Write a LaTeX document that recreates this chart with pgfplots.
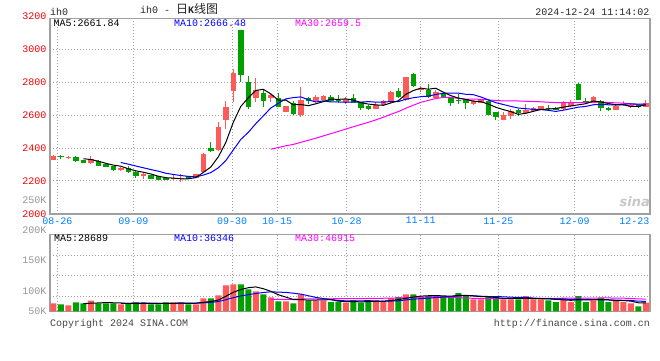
\documentclass[border=0pt]{standalone}
\usepackage{fontspec}
\usepackage{pgfplots}
\usepackage{pgfplotstable}
\pgfplotsset{compat=1.18}
\setmainfont{Liberation Mono}
\newfontfamily\cjk{Noto Sans CJK SC}
\newfontfamily\logofont{DejaVu Sans}
\definecolor{kred}{RGB}{255,90,90}
\definecolor{kgreen}{RGB}{0,160,0}
\definecolor{axred}{RGB}{240,0,0}
\definecolor{dateblue}{RGB}{0,128,255}
\definecolor{framegray}{RGB}{160,160,160}
\definecolor{gridgray}{RGB}{160,160,160}
\definecolor{labgray}{RGB}{150,150,150}
\definecolor{txtgray}{RGB}{70,70,70}
\definecolor{mablue}{RGB}{0,0,255}
\definecolor{mamag}{RGB}{255,0,255}

% red (rising) candles: index, open, high, low, close, volume (K)
\pgfplotstableread{
i O H L C V
0 2328 2358 2326 2354 28
2 2340 2350 2334 2348 21
5 2308 2354 2300 2332 37.5
9 2268 2284 2260 2276 24.5
12 2228 2248 2214 2240 28
16 2210 2237 2208 2220 31.5
17 2210 2243 2196 2218 31.5
19 2218 2245 2216 2243 24.5
20 2257 2370 2250 2363 45.5
22 2387 2560 2380 2527 56
23 2568 2685 2513 2651 91
24 2746 2878 2679 2858 94.5
27 2702 2827 2679 2750 70
29 2702 2736 2681 2720 49
31 2622 2655 2618 2653 35
33 2598 2769 2588 2694 59.5
35 2684 2725 2680 2708 37.5
36 2694 2720 2690 2718 37.5
39 2682 2710 2666 2698 30.5
43 2639 2680 2636 2661 38.5
44 2661 2690 2658 2686 32.5
45 2678 2746 2676 2743 46.5
47 2690 2835 2686 2833 59.5
49 2752 2780 2740 2760 50
51 2706 2752 2700 2740 53.5
56 2666 2690 2660 2686 42
57 2676 2700 2672 2696 42
60 2570 2620 2568 2600 42
61 2592 2636 2576 2626 42
63 2612 2666 2610 2632 53.5
64 2626 2648 2622 2646 42
65 2636 2658 2634 2656 42
68 2636 2686 2634 2672 46.5
69 2656 2692 2652 2680 32.5
72 2676 2714 2672 2712 38.5
75 2632 2664 2630 2654 38.5
76 2660 2684 2658 2670 32.5
77 2652 2676 2646 2664 28
79 2650 2690 2648 2674 30.5
}\up

% green (falling) candles
\pgfplotstableread{
i O H L C V
1 2354 2358 2334 2344 24.5
3 2344 2350 2318 2320 31.5
4 2328 2330 2306 2308 28
6 2324 2326 2290 2292 28
7 2304 2306 2282 2284 28
8 2288 2292 2262 2264 28
10 2276 2290 2250 2252 28
11 2256 2258 2220 2232 31.5
13 2236 2238 2210 2212 24.5
14 2228 2230 2206 2208 24.5
15 2220 2222 2204 2206 31.5
18 2230 2232 2212 2214 24.5
21 2400 2437 2373 2385 45.5
25 3116 3116 2803 2844 94.5
26 2803 2838 2640 2649 77
28 2736 2750 2651 2685 59.5
30 2702 2732 2648 2651 35
32 2673 2685 2602 2606 28
34 2704 2712 2670 2684 37.5
37 2708 2720 2680 2684 32.5
38 2694 2720 2676 2686 32.5
40 2704 2726 2672 2673 38.5
41 2678 2680 2634 2641 30.5
42 2653 2664 2634 2639 38.5
46 2745 2766 2705 2710 50
48 2853 2857 2770 2776 59.5
50 2755 2792 2706 2710 53.5
52 2730 2736 2706 2712 53.5
53 2706 2710 2656 2672 53.5
54 2692 2726 2666 2684 64
55 2696 2700 2636 2672 56
58 2686 2690 2598 2600 50
59 2620 2622 2570 2586 50
62 2632 2640 2596 2612 42
66 2646 2660 2626 2638 38.5
67 2646 2650 2630 2632 32.5
70 2792 2796 2690 2692 53.5
71 2688 2704 2668 2672 32.5
73 2688 2692 2628 2644 46.5
74 2642 2650 2626 2634 32.5
78 2660 2670 2644 2648 17.5
}\down

% price moving averages
\pgfplotstableread{
i m5 m10 m30
0 nan nan nan
1 nan nan nan
2 nan nan nan
3 nan nan nan
4 2334.8 nan nan
5 2330.4 nan nan
6 2320 nan nan
7 2307.2 nan nan
8 2296 nan nan
9 2289.6 2312.2 nan
10 2273.6 2302 nan
11 2261.6 2290.8 nan
12 2252.8 2280 nan
13 2242.4 2269.2 nan
14 2228.8 2259.2 nan
15 2219.6 2246.6 nan
16 2217.2 2239.4 nan
17 2212.8 2232.8 nan
18 2213.2 2227.8 nan
19 2220.2 2224.5 nan
20 2251.6 2235.6 nan
21 2284.6 2250.9 nan
22 2346.4 2279.6 nan
23 2433.8 2323.5 nan
24 2556.8 2388.5 nan
25 2653 2452.3 nan
26 2705.8 2495.2 nan
27 2750.4 2548.4 nan
28 2757.2 2595.5 nan
29 2729.6 2643.2 2393.3
30 2691 2672 2403.2
31 2691.8 2698.8 2413.5
32 2663 2706.7 2422.1
33 2664.8 2711 2434.6
34 2657.6 2693.6 2447.1
35 2669 2680 2459.6
36 2682 2686.9 2473.8
37 2697.6 2680.3 2487.2
38 2696 2680.4 2501.2
39 2698.8 2678.2 2515.3
40 2691.8 2680.4 2529.3
41 2676.4 2679.2 2543.0
42 2667.4 2682.5 2556.3
43 2662.4 2679.2 2571.2
44 2660 2679.4 2587.2
45 2674 2682.9 2605.1
46 2687.8 2682.1 2621.4
47 2726.6 2697 2641.9
48 2749.6 2706 2660.6
49 2764.4 2712.2 2677.9
50 2757.8 2715.9 2689.4
51 2763.8 2725.8 2701.3
52 2739.6 2733.1 2707.4
53 2718.8 2734.2 2708.1
54 2703.6 2734 2702.3
55 2696 2726.9 2696.6
56 2685.2 2724.5 2697.8
57 2682 2710.8 2696.0
58 2667.6 2693.2 2693.2
59 2648 2675.8 2688.7
60 2633.6 2664.8 2687.0
61 2621.6 2653.4 2686.1
62 2604.8 2643.4 2686.3
63 2611.2 2639.4 2684.3
64 2623.2 2635.6 2683.0
65 2634.4 2634 2681.3
66 2636.8 2629.2 2678.6
67 2640.8 2622.8 2676.8
68 2648.8 2630 2676.4
69 2655.6 2639.4 2675.8
70 2662.8 2648.6 2676.4
71 2669.6 2653.2 2677.4
72 2685.6 2663.2 2679.9
73 2680 2664.4 2679.3
74 2670.8 2663.2 2677.6
75 2663.2 2663.0 2674.6
76 2662.8 2666.0 2673.3
77 2653.2 2669.2 2667.6
78 2654 2667 2663.4
79 2662 2666.4 2660.5
}\ma

% volume moving averages (K)
\pgfplotstableread{
i v5 v10 v30
0 nan nan nan
1 nan nan nan
2 nan nan nan
3 nan nan nan
4 26.6 nan nan
5 28.5 nan nan
6 29.2 nan nan
7 30.6 nan nan
8 29.9 nan nan
9 29.2 27.9 nan
10 27.3 27.9 nan
11 28 28.6 nan
12 28 29.3 nan
13 27.3 28.6 nan
14 27.3 28.2 nan
15 28 27.7 nan
16 28 28 nan
17 28.7 28.4 nan
18 28.7 28 nan
19 28.7 28 nan
20 31.5 29.8 nan
21 34.3 31.2 nan
22 39.2 34 nan
23 52.5 40.6 nan
24 66.5 47.6 nan
25 76.3 53.9 nan
26 82.6 58.5 nan
27 85.4 62.3 nan
28 79.1 65.8 nan
29 70 68.3 41.4
30 58.1 67.2 41.6
31 49.7 66.2 42
32 41.3 63.4 42.2
33 41.3 60.2 43.1
34 39 54.5 43.4
35 39.5 48.8 43.4
36 40 44.8 43.8
37 40.9 41.1 43.9
38 35.5 38.4 44.1
39 34.1 36.5 44.3
40 34.3 36.9 44.6
41 32.9 36.4 44.6
42 34.1 37.5 44.9
43 35.3 35.4 45.4
44 35.7 34.9 45.7
45 37.3 35.8 46.2
46 41.2 37.1 46.8
47 45.4 39.8 47.7
48 49.6 42.5 48.9
49 53.1 44.4 49.7
50 54.5 45.9 50
51 55.2 48.2 50.3
52 54 49.7 50.2
53 52.9 51.2 48.9
54 55.7 54.4 47.9
55 56.1 55.3 46.7
56 53.8 54.5 45.5
57 51.5 52.8 44.6
58 50.8 51.8 44.2
59 48 51.8 44.3
60 45.2 50.7 44.5
61 45.2 49.5 44.7
62 45.2 48.4 45.2
63 45.9 48.4 45
64 44.3 46.2 45.2
65 44.3 44.8 45.3
66 43.6 44.4 45.3
67 41.7 43.5 45.3
68 40.3 43.1 45.8
69 38.4 41.4 45.9
70 40.7 42.5 46.4
71 39.6 41.6 46.4
72 40.7 41.2 46.4
73 40.7 40.5 46.7
74 40.7 39.6 46.7
75 37.7 39.2 46.4
76 37.7 38.6 45.9
77 35.6 38.2 44.8
78 29.8 35.3 43.4
79 29.4 35.1 42.8
}\vma

\pgfplotsset{
  kbase/.style={
    scale only axis, width=600pt,
    xmin=-0.44, xmax=79.56,
    axis line style={draw=framegray, line width=1.5pt},
    major tick length=0pt,
    xtick={0.53,10.67,23.83,29.83,39.1,48.99,59.33,69.52},
    grid style={draw=gridgray, line width=0.9pt, dash pattern=on 1pt off 2pt},
    tick label style={font=\fontsize{10}{12}\selectfont},
    unbounded coords=discard,
  },
  wick/.style={draw=none, mark=none, forget plot,
    error bars/.cd, y dir=plus, y explicit, error mark=none,
    error bar style={draw=#1, line width=1pt}},
  body/.style={draw=none, mark=none, forget plot,
    error bars/.cd, y dir=plus, y explicit, error mark=none,
    error bar style={draw=#1, line width=5.5pt}},
}

\begin{document}
\begin{tikzpicture}
\fill[white] (0,0) rectangle (660pt,-360pt);
\path[use as bounding box] (0,0) rectangle (660pt,-360pt);

% ---------- price panel ----------
\begin{axis}[kbase,
  at={(50pt,-213.8pt)}, anchor=south west, height=195.5pt,
  ymin=2000, ymax=3189,
  grid=major,
  xticklabels={08-26,09-09,09-30,10-15,10-28,11-11,11-25,12-09},
  xticklabel style={text=dateblue},
  ytick={2000,2200,2400,2600,2800,3000},
  yticklabels={2000,2200,2400,2600,2800,3000},
  yticklabel style={text=axred},
  extra y ticks={2085}, extra y tick labels={250K},
  extra y tick style={grid=none, yticklabel style={text=labgray}},
]
\addplot[wick=kred] table[x=i, y=L, y error plus expr=\thisrow{H}-\thisrow{L}] {\up};
\addplot[wick=kgreen] table[x=i, y=L, y error plus expr=\thisrow{H}-\thisrow{L}] {\down};
\addplot[body=kred] table[x=i, y=O, y error plus expr=\thisrow{C}-\thisrow{O}] {\up};
\addplot[body=kgreen] table[x=i, y=C, y error plus expr=\thisrow{O}-\thisrow{C}] {\down};
\addplot[mamag, line width=1pt, mark=none] table[x=i, y=m30] {\ma};
\addplot[mablue, line width=1pt, mark=none] table[x=i, y=m10] {\ma};
\addplot[black, line width=1pt, mark=none] table[x=i, y=m5] {\ma};
\end{axis}

% ---------- volume panel ----------
\begin{axis}[kbase,
  at={(50pt,-311.3pt)}, anchor=south west, height=77pt,
  ymin=0, ymax=269.5,
  xmajorgrids=true, ymajorgrids=false,
  xticklabels={},
  ytick={0,72,179.6},
  yticklabels={50K,100K,150K},
  yticklabel style={text=labgray},
  extra y ticks={53.5,126,196}, extra y tick labels={},
  extra y tick style={grid=major},
]
\addplot[ybar, bar width=0.8, bar shift=0pt, fill=kred, draw=none, forget plot] table[x=i, y=V] {\up};
\addplot[ybar, bar width=0.8, bar shift=0pt, fill=kgreen, draw=none, forget plot] table[x=i, y=V] {\down};
\addplot[mamag, line width=1pt, mark=none] table[x=i, y=v30] {\vma};
\addplot[mablue, line width=1pt, mark=none] table[x=i, y=v10] {\vma};
\addplot[black, line width=1pt, mark=none] table[x=i, y=v5] {\vma};
\end{axis}

% ---------- texts ----------
\node[anchor=base west, inner sep=0, text=black!85] at (50pt,-15.7pt) {ih0};
\node[anchor=base west, inner sep=0, text=black!85] at (140pt,-13.5pt)
  {ih0 - {\cjk\fontsize{12}{12}\selectfont 日}{\bfseries K}{\cjk\fontsize{12}{12}\selectfont 线图}};
\node[anchor=base east, inner sep=0, text=black!85] at (649.5pt,-15.3pt) {2024-12-24 11:14:02};

\node[anchor=base west, inner sep=0, text=black] at (53.5pt,-26.7pt) {MA5:2661.84};
\node[anchor=base west, inner sep=0, text=mablue] at (174pt,-26.7pt) {MA10:2666.48};
\node[anchor=base west, inner sep=0, text=mamag] at (295pt,-26.7pt) {MA30:2659.5};

\node[anchor=base west, inner sep=0, text=black] at (54pt,-241.7pt) {MA5:28689};
\node[anchor=base west, inner sep=0, text=mablue] at (174pt,-241.7pt) {MA10:36346};
\node[anchor=base west, inner sep=0, text=mamag] at (295pt,-241.7pt) {MA30:46915};

\node[anchor=east, inner sep=0, text=axred] at (46.5pt,-16.5pt) {3200};
\node[anchor=east, inner sep=0, text=labgray] at (46.5pt,-230pt) {200K};
\node[anchor=north east, inner sep=0, text=dateblue] at (649.5pt,-217.2pt) {12-23};

\node[anchor=base east, inner sep=0, text=black!22,
  font=\logofont\bfseries\itshape\fontsize{13}{13}\selectfont] at (650pt,-206pt) {sina};

\node[anchor=base west, inner sep=0, text=txtgray] at (50pt,-326pt) {Copyright 2024 SINA.COM};
\node[anchor=base east, inner sep=0, text=txtgray] at (650pt,-326pt) {http://finance.sina.com.cn};
\end{tikzpicture}
\end{document}
